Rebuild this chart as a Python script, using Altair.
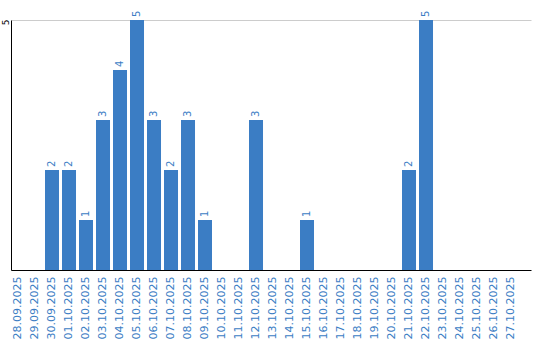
import altair as alt
import pandas as pd

dates = ["28.09.2025", "29.09.2025", "30.09.2025", "01.10.2025", "02.10.2025",
         "03.10.2025", "04.10.2025", "05.10.2025", "06.10.2025", "07.10.2025",
         "08.10.2025", "09.10.2025", "10.10.2025", "11.10.2025", "12.10.2025",
         "13.10.2025", "14.10.2025", "15.10.2025", "16.10.2025", "17.10.2025",
         "18.10.2025", "19.10.2025", "20.10.2025", "21.10.2025", "22.10.2025",
         "23.10.2025", "24.10.2025", "25.10.2025", "26.10.2025", "27.10.2025"]
counts = [0, 0, 2, 2, 1, 3, 4, 5, 3, 2, 3, 1, 0, 0, 3,
          0, 0, 1, 0, 0, 0, 0, 0, 2, 5, 0, 0, 0, 0, 0]

df = pd.DataFrame({"date": dates, "count": counts})

BAR = "#3b7dc4"
FONT = "DejaVu Sans"

x = alt.X("date:N", sort=dates,
          scale=alt.Scale(paddingInner=0.176, paddingOuter=0.382, align=0),
          axis=alt.Axis(title=None, labelAngle=-90, labelColor=BAR, labelFontSize=11,
                        labelFont=FONT, ticks=False, domainColor="#000000",
                        labelPadding=6, labelOverlap=False))
y = alt.Y("count:Q", scale=alt.Scale(domain=[0, 5], nice=False),
          axis=alt.Axis(title=None, values=[5], labelAngle=-90, labelFontSize=9,
                        labelFont=FONT, labelColor="#000000", ticks=False,
                        domainColor="#000000", gridColor="#cccccc", labelPadding=1,
                        labelAlign="center", labelBaseline="bottom", labelOffset=2))

bars = alt.Chart(df).mark_bar(color=BAR).encode(x=x, y=y)
labels = alt.Chart(df).transform_filter("datum.count > 0").mark_text(
    angle=270, align="left", baseline="middle", dx=3, color=BAR,
    fontSize=10, font=FONT).encode(x=alt.X("date:N", sort=dates), y="count:Q",
                                   text="count:Q")

chart = alt.layer(bars, labels).properties(
    width=520, height=250,
    background="white",
    autosize=alt.AutoSizeParams(type="none"),
    padding={"left": 11, "top": 20, "right": 9, "bottom": 70},
).configure_view(stroke=None)

chart.save("out.html", embed_options={"renderer": "svg", "actions": False})
